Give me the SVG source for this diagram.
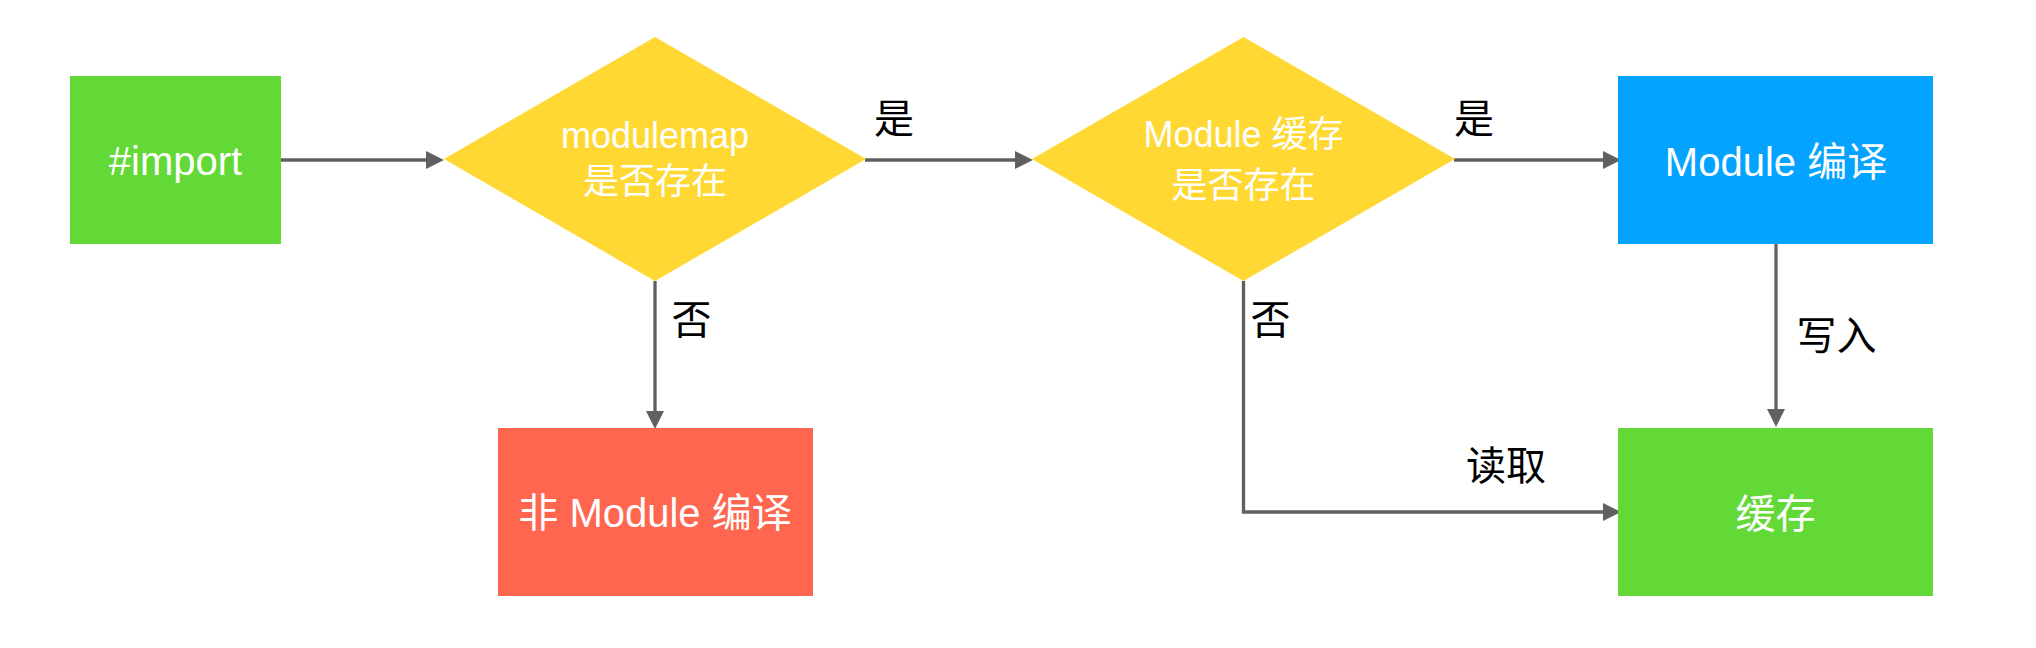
<svg xmlns="http://www.w3.org/2000/svg" width="2036" height="648" viewBox="0 0 2036 648">
<style>
.t{font-family:"Liberation Sans","Noto Sans CJK SC",sans-serif;font-size:36px;fill:#ffffff;text-anchor:middle}
.b{font-size:40px}
.l{font-family:"Liberation Sans","Noto Sans CJK SC",sans-serif;font-size:40px;fill:#000000;text-anchor:middle}
.e{fill:none;stroke:#606060;stroke-width:3.3}
</style>
<defs>
<marker id="arr" markerUnits="userSpaceOnUse" markerWidth="18" markerHeight="18" refX="0" refY="9" orient="auto">
<path d="M0,0 L18,9 L0,18 z" fill="#606060"/>
</marker>
</defs>
<rect width="2036" height="648" fill="#ffffff"/>
<g id="connectors">
<path class="e" d="M280,160 H426" marker-end="url(#arr)"/>
<path class="e" d="M865,160 H1015" marker-end="url(#arr)"/>
<path class="e" d="M1454,160 H1603" marker-end="url(#arr)"/>
<path class="e" d="M655,281 V411" marker-end="url(#arr)"/>
<path class="e" d="M1243.5,281 V512 H1603" marker-end="url(#arr)"/>
<path class="e" d="M1776,244 V409" marker-end="url(#arr)"/>
<text class="l" x="894" y="133">是</text>
<text class="l" x="1474" y="133">是</text>
<text class="l" x="691.5" y="334">否</text>
<text class="l" x="1270.5" y="334">否</text>
<text class="l" x="1836.5" y="350">写入</text>
<text class="l" x="1506" y="480">读取</text>
</g>
<g id="import">
<rect x="70" y="76" width="211" height="168" fill="#63D938"/>
<text class="t b" x="175.5" y="175">#import</text>
</g>
<g id="modulemap">
<polygon points="655,37 866,159 655,281 444,159" fill="#FFD833"/>
<text class="t" x="655" y="148">modulemap</text>
<text class="t" x="655" y="194">是否存在</text>
</g>
<g id="cache-check">
<polygon points="1243.5,37 1455,159 1243.5,281 1032,159" fill="#FFD833"/>
<text class="t" x="1243.5" y="147">Module 缓存</text>
<text class="t" x="1243.5" y="198">是否存在</text>
</g>
<g id="module-compile">
<rect x="1618" y="76" width="315" height="168" fill="#03A3FF"/>
<text class="t b" x="1776" y="176">Module 编译</text>
</g>
<g id="non-module-compile">
<rect x="498" y="428" width="315" height="168" fill="#FF6650"/>
<text class="t b" x="655" y="527">非 Module 编译</text>
</g>
<g id="cache">
<rect x="1618" y="428" width="315" height="168" fill="#63D938"/>
<text class="t b" x="1775.5" y="528">缓存</text>
</g>
</svg>
